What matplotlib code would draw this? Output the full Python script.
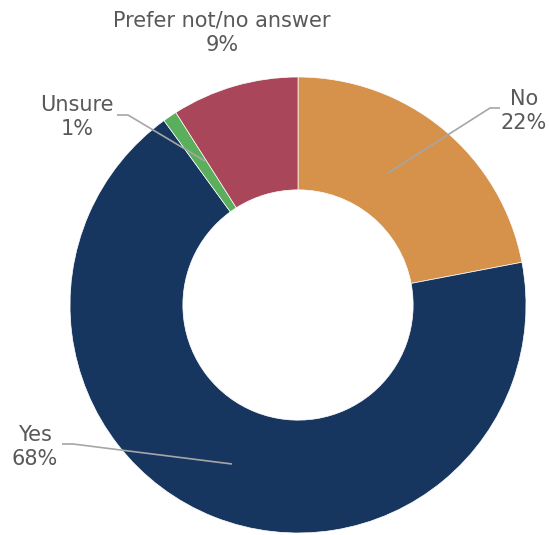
import matplotlib.pyplot as plt

# slices in drawing order, clockwise from 12 o'clock
labels = ["No", "Yes", "Unsure", "Prefer not/no answer"]
shares = [22, 68, 1, 9]
colors = ["#D6924A", "#17365F", "#5BAE5B", "#A9465A"]

W, H = 549, 535
TEXT_COLOR = "#595959"
LINE_COLOR = "#A6A6A6"

fig = plt.figure(figsize=(W / 100, H / 100), dpi=100)
ax = fig.add_axes([0, 0, 1, 1])

# pixel-space helper: y measured from the top of the image
def px(x, y):
    return x, H - y

center = px(298, 305)
radius = 228
ax.pie(
    shares,
    colors=colors,
    startangle=90,
    counterclock=False,
    center=center,
    radius=radius,
    wedgeprops=dict(width=radius * 0.495, edgecolor="white", linewidth=0.5),
    frame=True,
)
ax.set_xlim(0, W)
ax.set_ylim(0, H)
ax.set_aspect("equal")
ax.axis("off")

# label placement and leader lines (label anchor -> elbow -> slice point)
label_pos = {
    "No": (524, 111),
    "Yes": (35, 447),
    "Unsure": (77, 117),
    "Prefer not/no answer": (222, 33),
}
leaders = {
    "No": [(500, 108), (490, 108), (388, 173)],
    "Yes": [(62, 444), (73, 444), (232, 464)],
    "Unsure": [(117, 115), (128, 115), (205, 161)],
}

for label, share in zip(labels, shares):
    x, y = px(*label_pos[label])
    ax.text(x, y, f"{label}\n{share}%", ha="center", va="center",
            fontsize=15, color=TEXT_COLOR, linespacing=1.25)
    if label in leaders:
        pts = [px(*p) for p in leaders[label]]
        ax.plot([p[0] for p in pts], [p[1] for p in pts],
                color=LINE_COLOR, linewidth=1.2, solid_capstyle="butt")

fig.savefig("out.png", dpi=100)
